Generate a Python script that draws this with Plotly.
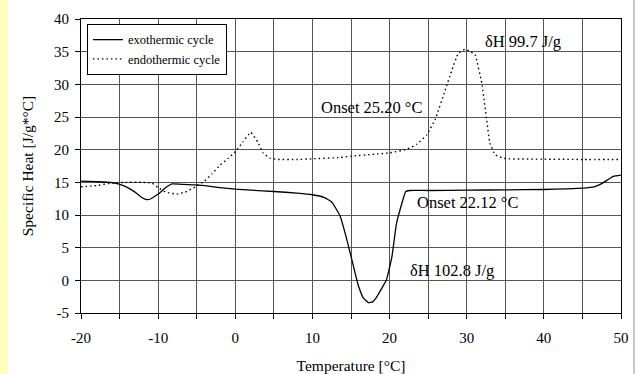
import plotly.graph_objects as go

# Exothermic cycle (solid)
exo_t = [-20, -18, -16, -14.5, -13, -12, -11.5, -11, -10, -9, -8.2, -7, -5, -2, 0, 2, 5, 8, 10,
         11.5, 12.5, 13.6, 14.4, 15.1, 15.9, 16.6, 17.25, 17.8, 18.3, 19, 19.6, 20.3, 20.9, 21.6,
         22.1, 22.6, 25, 30, 35, 40, 43, 45, 46.5, 47.5, 48.3, 49, 50]
exo_cp = [15.2, 15.1, 14.95, 14.5, 13.5, 12.6, 12.35, 12.45, 13.2, 14.2, 14.75, 14.7, 14.6, 14.2,
          13.95, 13.8, 13.6, 13.35, 13.1, 12.7, 12.0, 9.8, 6.5, 3.2, -0.6, -2.7, -3.4, -3.3, -2.6,
          -1.2, 0.1, 3.6, 8.7, 11.8, 13.6, 13.75, 13.75, 13.8, 13.85, 13.9, 14.0, 14.1, 14.3, 14.8,
          15.4, 15.9, 16.1]

# Endothermic cycle (dotted)
endo_t = [-20, -18, -16, -14, -12, -10.8, -10, -9, -7.6, -6.5, -5.2, -4, -3, -2, -1, 0, 1, 2,
          2.9, 3.6, 4.5, 5.5, 8, 10, 13.6, 15, 18, 20, 22.2, 23.5, 24.8, 25.9, 27.2, 28, 28.9,
          29.8, 30.5, 31.1, 31.95, 32.6, 33, 33.7, 34.5, 35.2, 40, 45, 50]
endo_cp = [14.3, 14.5, 14.9, 15.0, 15.0, 14.9, 14.2, 13.5, 13.2, 13.5, 14.3, 15.2, 16.3, 17.6,
           18.6, 19.7, 21.2, 22.65, 21.2, 19.5, 18.7, 18.5, 18.5, 18.6, 18.8, 19.0, 19.3, 19.5,
           20.05, 20.8, 22.25, 24.6, 29.1, 31.9, 34.75, 35.36, 35.0, 34.5, 30.2, 24.5, 21.0, 19.2,
           18.8, 18.6, 18.55, 18.5, 18.5]

series_names = ["exothermic cycle", "endothermic cycle"]
x_ticks = [-20, -10, 0, 10, 20, 30, 40, 50]
x_labels = ["-20", "-10", "0", "10", "20", "30", "40", "50"]
y_ticks = [-5, 0, 5, 10, 15, 20, 25, 30, 35, 40]
y_labels = ["-5", "0", "5", "10", "15", "20", "25", "30", "35", "40"]

notes = [
    (32.1, 36.5, "δH 99.7 J/g"),
    (10.85, 26.5, "Onset 25.20 °C"),
    (23.3, 11.85, "Onset 22.12 °C"),
    (22.4, 1.45, "δH 102.8 J/g"),
]

FONT = "Liberation Serif"
GRID = "#555555"

fig = go.Figure()
fig.add_trace(go.Scatter(x=exo_t, y=exo_cp, mode="lines", name=series_names[0],
                         line=dict(color="black", width=1.3, shape="spline", smoothing=0.4)))
fig.add_trace(go.Scatter(x=endo_t, y=endo_cp, mode="lines", name=series_names[1],
                         line=dict(color="black", width=1.4, dash="1.5px,3px", shape="spline", smoothing=0.3)))

for x, y, t in notes:
    fig.add_annotation(x=x, y=y, text=t, showarrow=False, xanchor="left", yanchor="middle",
                       font=dict(family=FONT, size=16.5, color="black"))

# Left yellow strip and right grey border
fig.add_shape(type="rect", xref="paper", yref="paper", x0=-81/540, x1=(8-81)/540,
              y0=-61/294, y1=1+19/294, fillcolor="#FFFFC0", line=dict(width=0), layer="below")
fig.add_shape(type="line", xref="paper", yref="paper", x0=(634-81)/540, x1=(634-81)/540,
              y0=-61/294, y1=1+19/294, line=dict(color="#C8C8C8", width=2))

fig.update_layout(
    width=637, height=374,
    margin=dict(l=81, r=16, t=19, b=61, autoexpand=False),
    paper_bgcolor="white", plot_bgcolor="white",
    font=dict(family=FONT, size=14, color="black"),
    showlegend=True,
    legend=dict(x=0.011, y=0.983, xanchor="left", yanchor="top",
                bgcolor="white", bordercolor="black", borderwidth=1,
                font=dict(family=FONT, size=12.5), tracegroupgap=0,
                itemwidth=30),
)
fig.update_xaxes(range=[-20, 50], tickvals=x_ticks, ticktext=x_labels, automargin=False,
                 ticks="outside", ticklen=5, tickcolor="black", ticklabelstandoff=6,
                 showline=True, linecolor="black", linewidth=1, mirror=True,
                 showgrid=True, gridcolor=GRID, gridwidth=1, zeroline=False,
                 minor=dict(dtick=5, tick0=0, ticks="outside", ticklen=5, tickcolor="black",
                            showgrid=True, gridcolor=GRID, gridwidth=1),
                 title=dict(text="Temperature [°C]", font=dict(family=FONT, size=15.5), standoff=17),
                 tickfont=dict(family=FONT, size=15))
fig.update_yaxes(range=[-5, 40], tickvals=y_ticks, ticktext=y_labels, automargin=False,
                 ticks="outside", ticklen=5, tickcolor="black", ticklabelstandoff=3,
                 showline=True, linecolor="black", linewidth=1, mirror=True,
                 showgrid=True, gridcolor=GRID, gridwidth=1, zeroline=False,
                 title=dict(text="Specific Heat [J/g*°C]", font=dict(family=FONT, size=15.5), standoff=16),
                 tickfont=dict(family=FONT, size=15))

fig.write_html("out.html", config={"displayModeBar": False},
               post_script="document.body.style.margin='0';document.body.style.padding='0';")
